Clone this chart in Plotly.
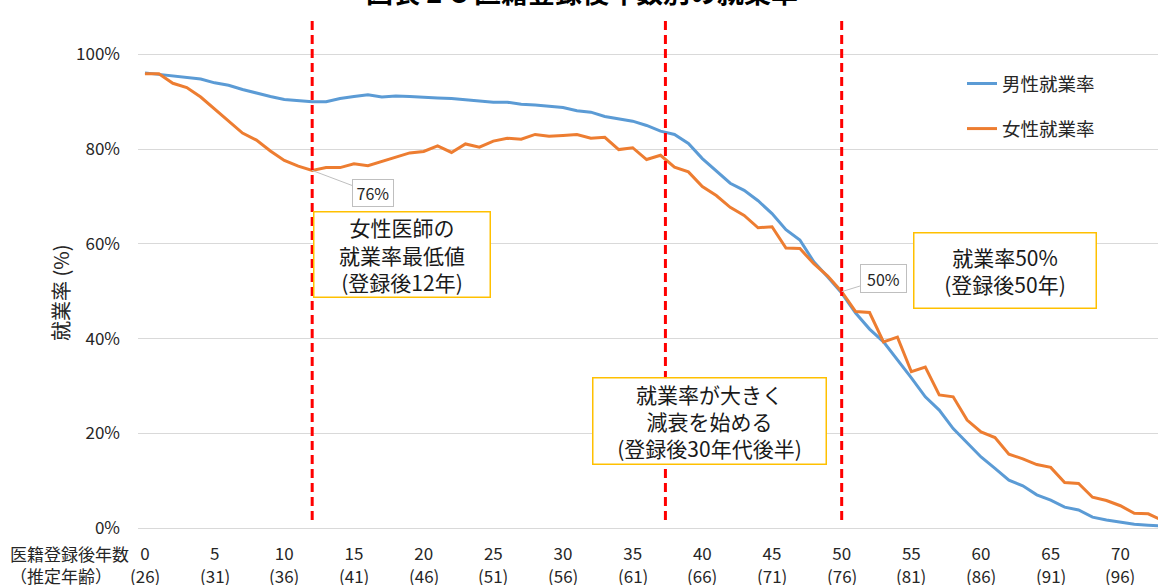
import plotly.graph_objects as go

# ---------------- data ----------------
years = list(range(0, 74))
male_rate = [96.1, 95.8, 95.5, 95.2, 94.8, 94.0, 93.5, 92.6, 91.8, 91.1,
             90.5, 90.2, 90.0, 90.0, 90.7, 91.1, 91.5, 91.0, 91.2, 91.1,
             90.9, 90.8, 90.7, 90.4, 90.2, 89.9, 89.9, 89.5, 89.3, 89.1,
             88.8, 88.1, 87.8, 86.9, 86.4, 85.9, 85.0, 83.8, 83.1, 81.2,
             78.0, 75.5, 72.8, 71.3, 69.1, 66.4, 63.0, 60.8, 56.2, 53.0,
             49.6, 45.4, 42.0, 39.3, 35.6, 31.7, 27.7, 24.9, 21.0, 18.0,
             15.0, 12.6, 10.1, 8.9, 7.0, 5.9, 4.4, 3.8, 2.3, 1.7,
             1.2, 0.8, 0.6, 0.4]
female_rate = [95.9, 95.9, 93.9, 93.0, 91.0, 88.5, 86.1, 83.4, 81.9, 79.6,
               77.6, 76.4, 75.5, 76.1, 76.1, 76.9, 76.5, 77.4, 78.2, 79.2,
               79.5, 80.7, 79.3, 81.1, 80.4, 81.7, 82.3, 82.1, 83.1, 82.7,
               82.9, 83.1, 82.3, 82.5, 79.9, 80.3, 77.8, 78.7, 76.2, 75.2,
               72.1, 70.2, 67.7, 66.0, 63.4, 63.6, 59.1, 59.0, 55.8, 53.2,
               49.9, 45.7, 45.5, 39.3, 40.3, 33.0, 34.0, 28.1, 27.7, 22.8,
               20.3, 19.1, 15.6, 14.6, 13.4, 12.8, 9.6, 9.4, 6.5, 5.8,
               4.7, 3.1, 3.0, 1.6]

tick_years = [0, 5, 10, 15, 20, 25, 30, 35, 40, 45, 50, 55, 60, 65, 70]
tick_year_labels = [str(v) for v in tick_years]
tick_age_labels = ["(26)", "(31)", "(36)", "(41)", "(46)", "(51)", "(56)", "(61)",
                   "(66)", "(71)", "(76)", "(81)", "(86)", "(91)", "(96)"]
y_ticks = [0, 20, 40, 60, 80, 100]
y_tick_labels = ["0%", "20%", "40%", "60%", "80%", "100%"]
marker_years = [12, 37.35, 50]

series_names = ["男性就業率", "女性就業率"]
series_colors = ["#5B9BD5", "#ED7D31"]

title_text = "<b>図表 2-3 医籍登録後年数別の就業率</b>"
box_texts = ["女性医師の<br>就業率最低値<br>(登録後12年)",
             "就業率が大きく<br>減衰を始める<br>(登録後30年代後半)",
             "就業率50%<br>(登録後50年)"]

# ---------------- layout geometry (pixels) ----------------
W, H = 1158, 585
L, R, T, B = 138, 0, 17, 57
PW, PH = W - L - R, H - T - B


def px_x(px):
    return (px - L) / PW


def px_y(py):
    return (H - B - py) / PH


FONT = "Noto Sans CJK JP, Noto Sans, sans-serif"
TXT = "#262626"

fig = go.Figure()
for name, vals, col in zip(series_names, [male_rate, female_rate], series_colors):
    fig.add_trace(go.Scatter(x=years, y=vals, mode="lines", name=name,
                             legendgroup=name,
                             line=dict(color=col, width=3)))

# red dashed vertical markers
for xv in marker_years:
    fig.add_shape(type="line", xref="x", yref="paper", x0=xv, x1=xv,
                  y0=px_y(520), y1=px_y(17), layer="above",
                  line=dict(color="#FF0000", width=3, dash="9px,5px"))

annotations = []
# title (top is cut off like the reference)
annotations.append(dict(text=title_text, xref="paper", yref="paper",
                        x=px_x(582), y=px_y(13), xanchor="center", yanchor="bottom",
                        showarrow=False, font=dict(family=FONT, size=27, color="#000000")))

# age labels row
for xv, lab in zip(tick_years, tick_age_labels):
    annotations.append(dict(text=lab, xref="x", yref="paper", x=xv, y=px_y(575),
                            xanchor="center", yanchor="middle", showarrow=False,
                            font=dict(family=FONT, size=17, color=TXT)))

# left-side row titles
annotations.append(dict(text="医籍登録後年数", xref="paper", yref="paper",
                        x=px_x(8), y=px_y(553), xanchor="left", yanchor="middle",
                        showarrow=False, font=dict(family=FONT, size=17, color=TXT)))
annotations.append(dict(text="（推定年齢）", xref="paper", yref="paper",
                        x=px_x(8), y=px_y(575), xanchor="left", yanchor="middle",
                        showarrow=False, font=dict(family=FONT, size=17, color=TXT)))

# y-axis title
annotations.append(dict(text="就業率 (%)", xref="paper", yref="paper",
                        x=px_x(60), y=px_y(293), xanchor="center", yanchor="middle",
                        textangle=-90, showarrow=False,
                        font=dict(family=FONT, size=20, color=TXT)))

# callouts with leader lines
annotations.append(dict(text="76%", xref="x", yref="y", x=12, y=female_rate[12],
                        ax=61, ay=23, showarrow=True, arrowhead=0, arrowwidth=1,
                        arrowcolor="#BFBFBF", standoff=0,
                        bgcolor="#FFFFFF", bordercolor="#BFBFBF", borderwidth=1,
                        borderpad=0, width=40, height=26,
                        font=dict(family=FONT, size=16, color=TXT)))
annotations.append(dict(text="50%", xref="x", yref="y", x=50, y=female_rate[50],
                        ax=42, ay=-13, showarrow=True, arrowhead=0, arrowwidth=1,
                        arrowcolor="#BFBFBF", standoff=0,
                        bgcolor="#FFFFFF", bordercolor="#BFBFBF", borderwidth=1,
                        borderpad=0, width=45, height=27,
                        font=dict(family=FONT, size=16, color=TXT)))

# yellow boxes
boxes = [(401.5, 254.3, 178, 87), (709.8, 420.8, 235, 88), (1005.3, 270.3, 184, 77)]
for txt, (cx, cy, bw, bh) in zip(box_texts, boxes):
    annotations.append(dict(text=txt, xref="paper", yref="paper",
                            x=px_x(cx), y=px_y(cy), xanchor="center", yanchor="middle",
                            showarrow=False, align="center", valign="middle",
                            bgcolor="#FFFFFF", bordercolor="#FFC000", borderwidth=1.5,
                            borderpad=0, width=bw - 3, height=bh - 3,
                            font=dict(family=FONT, size=21, color="#1A1A1A")))

fig.update_layout(
    width=W, height=H, autosize=False,
    margin=dict(l=L, r=R, t=T, b=B, pad=0),
    paper_bgcolor="#FFFFFF", plot_bgcolor="#FFFFFF",
    font=dict(family=FONT, color=TXT),
    showlegend=True,
    legend=dict(x=px_x(962), y=px_y(65), xanchor="left", yanchor="top",
                bgcolor="rgba(0,0,0,0)", font=dict(family=FONT, size=18.5, color=TXT),
                tracegroupgap=18, itemwidth=30),
    xaxis=dict(range=[-0.5, 72.7], tickvals=tick_years, ticktext=tick_year_labels,
               showgrid=False, zeroline=False, showline=False, ticks="",
               ticklabelstandoff=14,
               tickfont=dict(family=FONT, size=17, color=TXT), fixedrange=True),
    yaxis=dict(range=[0, 107.9], tickvals=y_ticks, ticktext=y_tick_labels,
               showgrid=True, gridcolor="#D9D9D9", gridwidth=1,
               zeroline=True, zerolinecolor="#D9D9D9", zerolinewidth=1,
               showline=False, ticks="", ticklabelstandoff=17,
               tickfont=dict(family=FONT, size=17, color=TXT), fixedrange=True),
    annotations=annotations,
)

fig.write_html("out.html", config={"displayModeBar": False},
               post_script="document.body.style.margin='0';document.body.style.overflow='hidden';")
